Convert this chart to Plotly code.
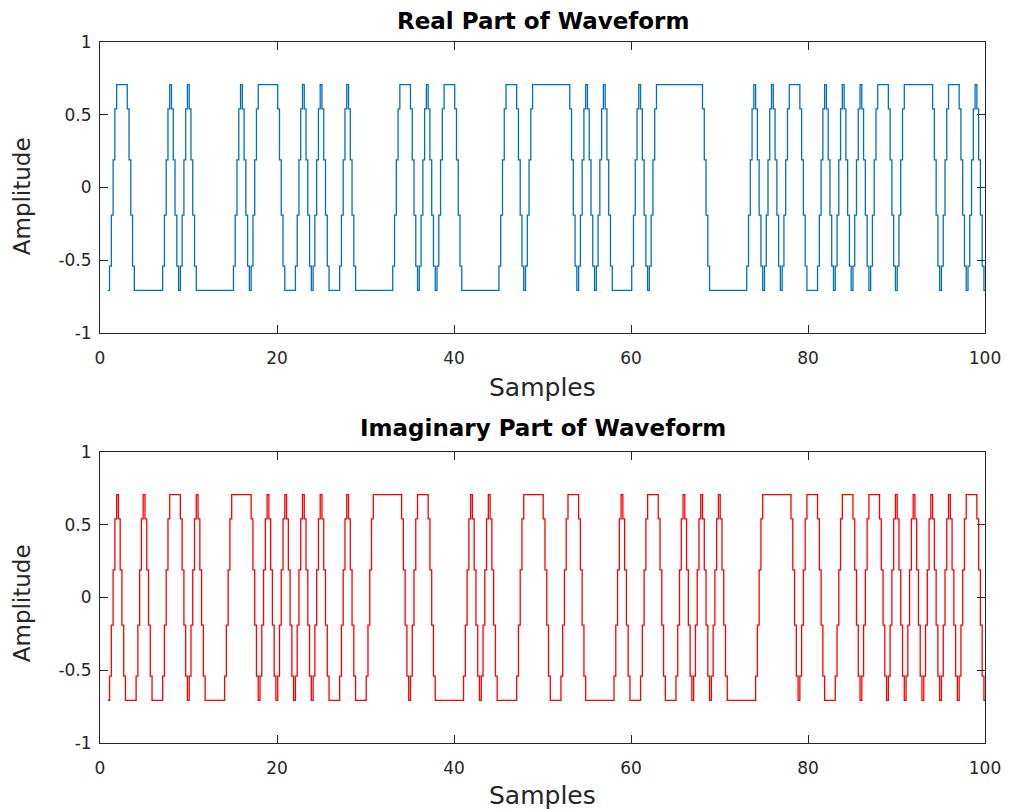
import plotly.graph_objects as go

# ---- data ----
samples_axis_ticks = [0, 20, 40, 60, 80, 100]
amplitude_ticks = [-1, -0.5, 0, 0.5, 1]
amplitude_tick_text = ["-1", "-0.5", "0", "0.5", "1"]

# symbol polarity at each integer sample position (1..100)
real_symbols = [
    -1, 1, 1, -1, -1, -1, -1, 1, -1, 1,
    -1, -1, -1, -1, -1, 1, -1, 1, 1, 1,
    -1, -1, 1, -1, 1, -1, -1, 1, -1, -1,
    -1, -1, -1, 1, 1, -1, 1, -1, 1, 1,
    -1, -1, -1, -1, -1, 1, 1, -1, 1, 1,
    1, 1, 1, -1, 1, -1, 1, -1, -1, -1,
    1, -1, 1, 1, 1, 1, 1, 1, -1, -1,
    -1, -1, -1, 1, -1, 1, -1, 1, 1, -1,
    -1, 1, -1, 1, -1, 1, -1, 1, 1, -1,
    1, 1, 1, 1, -1, 1, 1, -1, 1, -1,
]
imag_symbols = [
    -1, 1, -1, -1, 1, -1, -1, 1, 1, -1,
    1, -1, -1, -1, 1, 1, 1, -1, 1, -1,
    1, -1, 1, -1, 1, -1, -1, 1, -1, -1,
    1, 1, 1, 1, -1, 1, 1, -1, -1, -1,
    -1, 1, -1, 1, -1, -1, -1, 1, 1, 1,
    -1, -1, 1, 1, -1, -1, -1, -1, 1, -1,
    -1, 1, 1, -1, -1, 1, -1, 1, -1, 1,
    -1, -1, -1, -1, 1, 1, 1, 1, -1, 1,
    1, -1, -1, 1, 1, -1, 1, 1, -1, 1,
    -1, 1, -1, 1, -1, 1, -1, 1, 1, -1,
]
symbol_level = 0.7071
# intermediate stair levels seen on a rising edge
rising_edge_levels = [-0.54, -0.19, 0.19, 0.54]
step_width = 0.2
start_offset = -0.12


def staircase(symbols):
    xs, ys = [], []
    n = len(symbols)
    for i, s in enumerate(symbols):
        x0 = i + 1 + start_offset
        xs.append(x0)
        ys.append(s * symbol_level)
        if i < n - 1:
            nxt = symbols[i + 1]
            for j, lev in enumerate(rising_edge_levels):
                xs.append(x0 + (j + 1) * step_width)
                ys.append(s * symbol_level if nxt == s else lev * nxt)
    xs.append(n + start_offset + step_width)
    ys.append(symbols[-1] * symbol_level)
    return xs, ys


rx, ry = staircase(real_symbols)
ix, iy = staircase(imag_symbols)

fig = go.Figure()
fig.add_trace(go.Scatter(x=rx, y=ry, mode="lines", line=dict(color="#0072BD", width=1.3, shape="hv"),
                         xaxis="x", yaxis="y", showlegend=False))
fig.add_trace(go.Scatter(x=ix, y=iy, mode="lines", line=dict(color="#FF0000", width=1.3, shape="hv"),
                         xaxis="x2", yaxis="y2", showlegend=False))

OFF = 8  # page body margin
W, H = 1013 - OFF, 809 - OFF
L, R, T, B = 100 - OFF, 988 - OFF, 42 - OFF, 743 - OFF
top_panel = (42 - OFF, 333 - OFF)
bot_panel = (452 - OFF, 743 - OFF)


def ydom(p):
    return [(B - p[1]) / (B - T), (B - p[0]) / (B - T)]


font = "DejaVu Sans"
axcol = "#262626"
common_x = dict(range=[0, 100], tickvals=samples_axis_ticks, ticks="inside", ticklen=8, tickcolor=axcol,
                showline=True, linecolor=axcol, linewidth=1, mirror="ticks", showgrid=False, zeroline=False,
                tickfont=dict(family=font, size=17, color=axcol), ticklabelstandoff=10)
common_y = dict(range=[-1, 1], tickvals=amplitude_ticks, ticktext=amplitude_tick_text, ticks="inside", ticklen=8,
                tickcolor=axcol, showline=True, linecolor=axcol, linewidth=1, mirror="ticks", showgrid=False,
                zeroline=False, tickfont=dict(family=font, size=17, color=axcol), ticklabelstandoff=4)

fig.update_layout(
    width=W, height=H, margin=dict(l=L, r=W - R, t=T, b=H - B),
    paper_bgcolor="white", plot_bgcolor="white",
    xaxis=dict(domain=[0, 1], anchor="y", **common_x),
    yaxis=dict(domain=ydom(top_panel), anchor="x", **common_y),
    xaxis2=dict(domain=[0, 1], anchor="y2", **common_x),
    yaxis2=dict(domain=ydom(bot_panel), anchor="x2", **common_y),
)


def py(px):
    return (B - (px - OFF)) / (B - T)


def pxr(px):
    return ((px - OFF) - L) / (R - L)


ann = [
    dict(text="<b>Real Part of Waveform</b>", x=0.5, y=py(21), size=23, color="#000000"),
    dict(text="<b>Imaginary Part of Waveform</b>", x=0.5, y=py(428), size=23, color="#000000"),
    dict(text="Samples", x=0.5, y=py(387), size=25, color=axcol),
    dict(text="Samples", x=0.5, y=py(795), size=25, color=axcol),
]
for a in ann:
    fig.add_annotation(text=a["text"], x=a["x"], y=a["y"], xref="paper", yref="paper", showarrow=False,
                       xanchor="center", yanchor="middle", font=dict(family=font, size=a["size"], color=a["color"]))
for yc in [196, 603]:
    fig.add_annotation(text="Amplitude", x=pxr(22), y=py(yc), xref="paper", yref="paper",
                       showarrow=False, textangle=-90, xanchor="center", yanchor="middle",
                       font=dict(family=font, size=23, color=axcol))

fig.write_html("out.html")
